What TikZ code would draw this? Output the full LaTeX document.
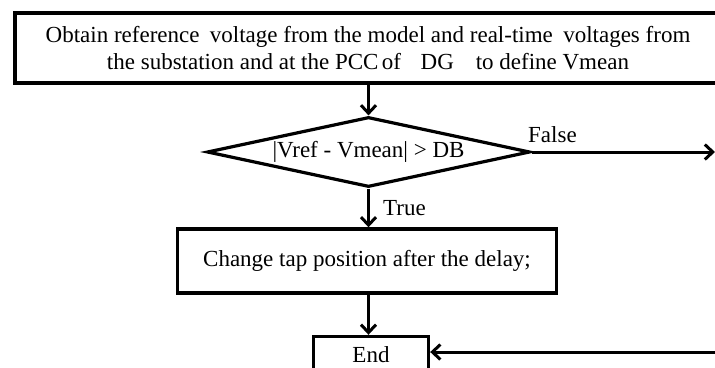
\documentclass[tikz,border=0pt]{standalone}
\usepackage{fontspec}
\setmainfont{Liberation Serif}
\usetikzlibrary{shapes.geometric,arrows.meta}

\begin{document}
\begin{tikzpicture}[x=1pt,y=-1pt,
  every node/.style={font=\fontsize{23}{27}\selectfont},
  procbox/.style={draw,line width=3.4pt,rectangle,inner sep=0pt,align=center},
  decision/.style={draw,line width=3.2pt,diamond,aspect=4.6,inner sep=0pt},
  flow/.style={line width=3pt,-{Straight Barb[length=8pt,width=15pt,line width=3pt]}},
  lbl/.style={inner sep=0pt}
]
\useasboundingbox (0,0) rectangle (715,367);

% process steps
\node[procbox,minimum width=706pt,minimum height=70pt] (obtain) at (368,48)
  {Obtain reference\hspace{0.2em} voltage from the model and real-time\hspace{0.2em} voltages from\\
   the substation and at the PCC\hspace{-0.1em} of\hspace{0.6em} DG\hspace{0.7em} to define Vmean};
\node[decision,minimum width=323pt,minimum height=70pt] (check) at (368.5,152)
  {|Vref - Vmean| > DB};
\node[procbox,minimum width=379pt,minimum height=64pt] (tap) at (367,261)
  {Change tap position after the delay;};
\node[procbox,minimum width=115pt,minimum height=36pt] (end) at (371,354.5) {End};

% free ends of the bypass branch
\coordinate (fout) at (715,152);
\coordinate (fin) at (720,352);

% connectors
\draw[flow] (obtain.south -| check.north) -- (check.north);
\draw[flow] (check.south) -- (tap.north -| check.south);
\draw[flow] (tap.south -| check.south) -- (end.north -| check.south);
\draw[flow] (check.east) -- (fout);
\draw[flow] (fin) -- (fin -| end.east);

% branch labels
\node[lbl,anchor=west] (lfalse) at (528,135) {False};
\node[lbl,anchor=west] (ltrue) at (383,208) {True};
\end{tikzpicture}
\end{document}
